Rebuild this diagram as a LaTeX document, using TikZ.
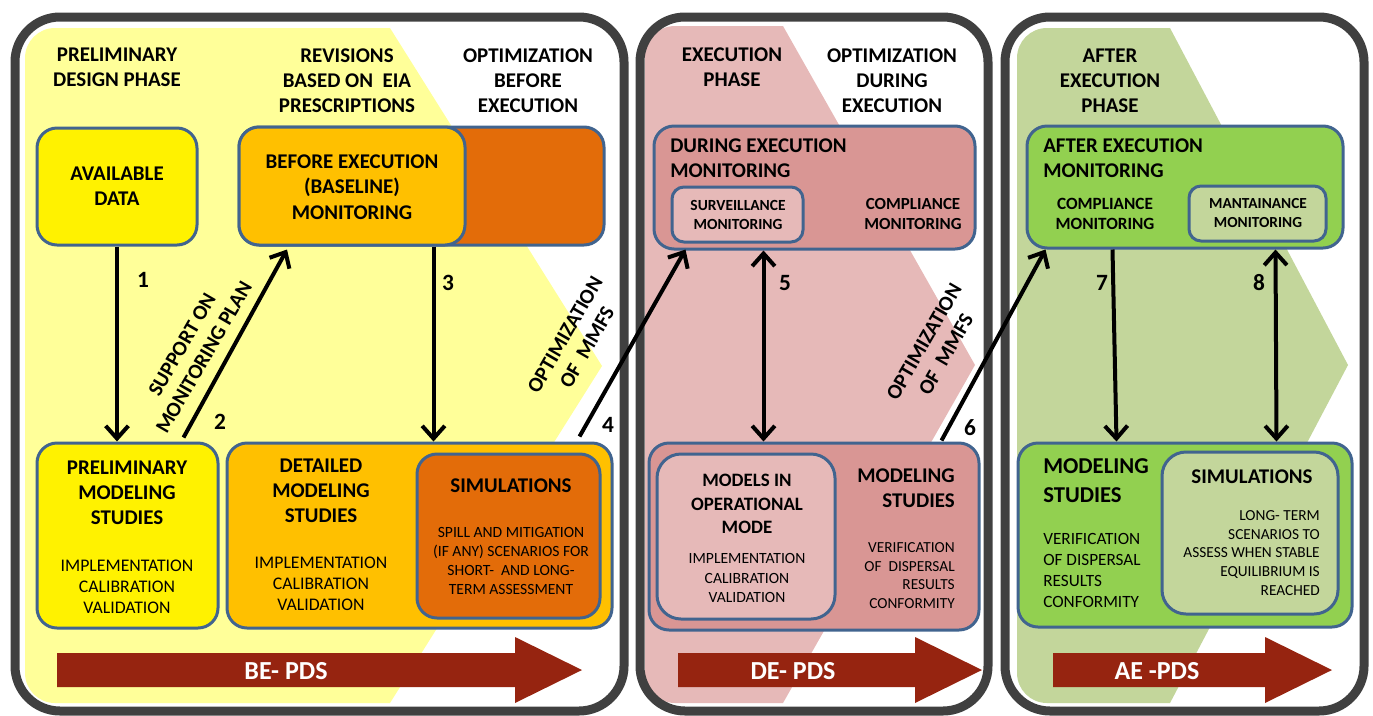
\documentclass[tikz,border=0pt]{standalone}
\usepackage{fontspec}
\setmainfont{Carlito}
\usetikzlibrary{arrows.meta,calc,fit}
\definecolor{ltyellow}{HTML}{FFFF99}
\definecolor{byellow}{HTML}{FFF200}
\definecolor{goldc}{HTML}{FFC000}
\definecolor{dorange}{HTML}{E36C09}
\definecolor{ltpink}{HTML}{E6B9B8}
\definecolor{pinkc}{HTML}{D99694}
\definecolor{ltgreen}{HTML}{C3D69B}
\definecolor{greenc}{HTML}{92D050}
\definecolor{bordblue}{HTML}{41648F}
\definecolor{framec}{HTML}{404040}
\definecolor{darkredc}{HTML}{962410}
\begin{document}
\begin{tikzpicture}[x=0.75pt,y=-0.75pt,
  panel/.style={draw=framec,line width=6.75pt,rounded corners=33.75pt,inner sep=0pt},
  box/.style={draw=bordblue,line width=2.25pt,rounded corners=15pt,inner sep=0pt},
  sbox/.style={draw=bordblue,line width=2.25pt,rounded corners=9pt,inner sep=0pt},
  hdr/.style={font=\bfseries\fontsize{15.7}{18.9}\selectfont,align=center,inner sep=0pt},
  sub/.style={font=\fontsize{13.3}{15.75}\selectfont,align=center,inner sep=0pt},
  num/.style={font=\bfseries\fontsize{17.5}{20}\selectfont,inner sep=0pt},
  pds/.style={font=\bfseries\fontsize{19.5}{22}\selectfont,text=white,inner sep=0pt},
  rot/.style={font=\bfseries\fontsize{15.7}{19}\selectfont,align=center,inner sep=0pt,rotate=60},
  tip/.style={Straight Barb[length=9.5pt,width=17pt,line width=3pt]},
  conn/.style={line width=3pt,-{Straight Barb[length=9.5pt,width=17pt,line width=3pt]}},
  dconn/.style={line width=3pt,{Straight Barb[length=9.5pt,width=17pt,line width=3pt]}-{Straight Barb[length=9.5pt,width=17pt,line width=3pt]}}
]
\useasboundingbox (0,0) rectangle (1373,715);
% chevrons
\begin{scope}
\clip[rounded corners=22.5pt] (25,28) rectangle (614,703);
\fill[ltyellow] (25,28) -- (390,28) -- (602,366) -- (390,703) -- (25,703) -- cycle;
\end{scope}
\begin{scope}
\clip[rounded corners=22.5pt] (645,26) rectangle (980,703);
\fill[ltpink] (645,26) -- (783,26) -- (975,365) -- (783,703) -- (645,703) -- cycle;
\end{scope}
\begin{scope}
\clip[rounded corners=22.5pt] (1017,28) rectangle (1356,703);
\fill[ltgreen] (1017,28) -- (1170,28) -- (1348,365) -- (1170,703) -- (1017,703) -- cycle;
\end{scope}
% panels
\node[panel,fit={(15,17) (624,711)}] (p1) {};
\node[panel,fit={(640,17) (988,711)}] (p2) {};
\node[panel,fit={(1005,17) (1364,711)}] (p3) {};

% ---------- panel 1 ----------
\node[hdr] (h11) at (117,67.5) {PRELIMINARY\\DESIGN PHASE};
\node[hdr] (h12) at (347,80.5) {REVISIONS\\BASED ON~~EIA\\PRESCRIPTIONS};
\node[hdr] (h13) at (528,80.5) {OPTIMIZATION\\BEFORE\\EXECUTION};

\node[box,fill=byellow,fit={(37,128) (197,245)}] (avail) {};
\node[hdr] (tavail) at (117,186.5) {AVAILABLE\\DATA};

\node[box,fill=dorange,fit={(239,127) (604,245)}] (bexo) {};
\node[box,fill=goldc,fit={(239,127) (465,245)}] (bex) {};
\node[hdr] (tbex) at (352,187) {BEFORE EXECUTION\\(BASELINE)\\MONITORING};

\node[box,fill=byellow,fit={(37,443) (218,628)}] (prelim) {};
\node[hdr] (tprelim) at (127,493) {PRELIMINARY\\MODELING\\STUDIES};
\node[sub] (sprelim) at (127,587) {IMPLEMENTATION\\CALIBRATION\\VALIDATION};

\node[box,fill=goldc,fit={(227,443) (612,628)}] (detailed) {};
\node[hdr] (tdet) at (321,490.5) {DETAILED\\MODELING\\STUDIES};
\node[sub] (sdet) at (321,584) {IMPLEMENTATION\\CALIBRATION\\VALIDATION};
\node[box,fill=dorange,fit={(417,454) (600,618)}] (sim1) {};
\node[hdr] (tsim1) at (511,486) {SIMULATIONS};
\node[sub,font=\fontsize{11.7}{14.25}\selectfont] (ssim1) at (511,561) {SPILL AND MITIGATION\\(IF ANY) SCENARIOS FOR\\SHORT-~~AND LONG-\\TERM ASSESSMENT};

\fill[darkredc] (57,653) -- (515,653) -- (515,637) -- (582,670) -- (515,703) -- (515,687) -- (57,687) -- cycle;
\node[pds] (bepds) at (286,671) {BE- PDS};

% ---------- panel 2 ----------
\node[hdr] (h21) at (732,67.5) {EXECUTION\\PHASE};
\node[hdr] (h22) at (892,80.5) {OPTIMIZATION\\DURING\\EXECUTION};

\node[box,fill=pinkc,fit={(654,126) (975,249)}] (dem) {};
\node[hdr,align=left,anchor=west] (tdem) at (670,158.5) {DURING EXECUTION\\MONITORING};
\node[sbox,fill=ltpink,fit={(672,187) (803,242)}] (surv) {};
\node[hdr,font=\bfseries\fontsize{11.6}{14.25}\selectfont] (tsurv) at (738,214.5) {SURVEILLANCE\\MONITORING};
\node[hdr,font=\bfseries\fontsize{12.7}{15}\selectfont] (tcomp2) at (913,213.5) {COMPLIANCE\\MONITORING};

\node[box,fill=pinkc,fit={(649,443) (979,630)}] (ms2) {};
\node[box,rounded corners=18pt,fill=ltpink,fit={(657,454) (835,619)}] (mom) {};
\node[hdr,font=\bfseries\fontsize{14.2}{17.6}\selectfont] (tmom) at (747,504) {MODELS IN\\OPERATIONAL\\MODE};
\node[sub,font=\fontsize{11.7}{14.3}\selectfont] (smom) at (747,578) {IMPLEMENTATION\\CALIBRATION\\VALIDATION};
\node[hdr,align=right,anchor=east] (tms2) at (955,488) {MODELING\\STUDIES};
\node[sub,align=right,anchor=east,font=\fontsize{11.5}{14}\selectfont] (sms2) at (955,575.5) {VERIFICATION\\OF~~DISPERSAL\\RESULTS\\CONFORMITY};

\fill[darkredc] (678,653) -- (915,653) -- (915,637) -- (982,670) -- (915,703) -- (915,687) -- (678,687) -- cycle;
\node[pds] (depds) at (793,671) {DE- PDS};

% ---------- panel 3 ----------
\node[hdr] (h31) at (1110,80.5) {AFTER\\EXECUTION\\PHASE};

\node[box,fill=greenc,fit={(1027,126) (1343,248)}] (aem) {};
\node[hdr,align=left,anchor=west] (taem) at (1043,158.5) {AFTER EXECUTION\\MONITORING};
\node[hdr,font=\bfseries\fontsize{12.9}{15}\selectfont] (tcomp3) at (1105,213.5) {COMPLIANCE\\MONITORING};
\node[sbox,fill=ltgreen,fit={(1189,186) (1326,241)}] (mant) {};
\node[hdr,font=\bfseries\fontsize{11.5}{14.25}\selectfont] (tmant) at (1258,213.5) {MANTAINANCE\\MONITORING};

\node[box,fill=greenc,fit={(1018,443) (1352,627)}] (ms3) {};
\node[hdr,align=left,anchor=west,font=\bfseries\fontsize{17}{21.75}\selectfont] (tms3) at (1043,480.5) {MODELING\\STUDIES};
\node[sub,align=left,anchor=west,font=\fontsize{12.9}{15.75}\selectfont] (sms3) at (1043,570.5) {VERIFICATION\\OF DISPERSAL\\RESULTS\\CONFORMITY};
\node[box,rounded corners=18pt,fill=ltgreen,fit={(1162,452) (1338,614)}] (sim3) {};
\node[hdr] (tsim3) at (1252,477) {SIMULATIONS};
\node[sub,align=right,anchor=east,font=\fontsize{11.5}{13.9}\selectfont] (ssim3) at (1320,553) {LONG- TERM\\SCENARIOS TO\\ASSESS WHEN STABLE\\EQUILIBRIUM IS\\REACHED};

\fill[darkredc] (1053,653) -- (1265,653) -- (1265,637) -- (1332,670) -- (1265,703) -- (1265,687) -- (1053,687) -- cycle;
\node[pds] (aepds) at (1157,671) {AE -PDS};

% ---------- connectors ----------
\coordinate (a3s) at ($(bex.south east)+(-33,0)$);
\draw[conn] (avail.south) -- (avail.south |- prelim.north);
\draw[conn] ($(prelim.north)+(56,-4)$) -- ($(bex.south)+(-65,3)$);
\draw[conn] (a3s) -- (a3s |- detailed.north);
\draw[conn] ($(detailed.north east)+(-34,-5)$) -- ($(dem.south west)+(33,-1)$);
\draw[dconn] ($(dem.south west)+(111,0)$) -- ($(ms2.north west)+(116,0)$);
\draw[conn] ($(ms2.north east)+(-39,-1)$) -- ($(aem.south west)+(20,0)$);
\draw[conn] ($(aem.south west)+(87,0)$) -- ($(ms3.north west)+(100,0)$);
\draw[dconn] ($(aem.south west)+(250,0)$) -- ($(ms3.north west)+(260,0)$);

\node[num] (n1) at (143,280) {1};
\node[num] (n2) at (220,422) {2};
\node[num] (n3) at (448,283) {3};
\node[num] (n4) at (608,425) {4};
\node[num] (n5) at (785,283) {5};
\node[num] (n6) at (970,428) {6};
\node[num] (n7) at (1102,283) {7};
\node[num] (n8) at (1259,283) {8};

\node[rot] (r1) at (193,351) {SUPPORT ON\\MONITORING PLAN};
\node[rot] (r2) at (576,341) {OPTIMIZATION\\OF~~MMFS};
\node[rot] (r3) at (935,348) {OPTIMIZATION\\OF~~MMFS};
\end{tikzpicture}
\end{document}
